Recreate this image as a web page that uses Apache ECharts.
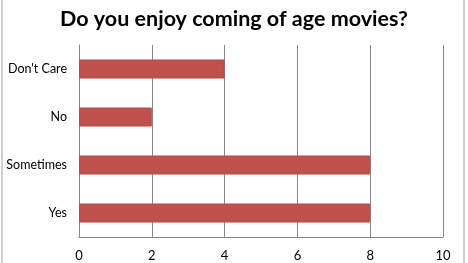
<!DOCTYPE html>
<html><head><meta charset="utf-8">
<script src="https://cdn.jsdelivr.net/npm/echarts@6/dist/echarts.min.js"></script>
<style>html,body{margin:0;padding:0;background:#fff;}#c{width:468px;height:263px;}</style>
</head><body><div id="c"></div>
<script>
const titleText = "Do you enjoy coming of age movies?";
const categories = ["Yes", "Sometimes", "No", "Don't Care"];
const values = [8, 8, 2, 4];
const xTicks = [0, 2, 4, 6, 8, 10];

const chart = echarts.init(document.getElementById('c'), null, {renderer: 'canvas'});
chart.setOption({
  animation: false,
  backgroundColor: '#fff',
  title: {
    text: titleText, left: 'center', top: 3,
    textStyle: {fontFamily: 'Lato', fontWeight: 'bold', fontSize: 21.5, color: '#000'}
  },
  graphic: [{
    type: 'rect', shape: {x: 2, y: -2, width: 462, height: 270},
    style: {fill: 'none', stroke: '#a0a0a0', lineWidth: 1}, silent: true
  }],
  grid: {left: 79, right: 25, top: 45, bottom: 26, containLabel: false},
  xAxis: {
    type: 'value', min: xTicks[0], max: xTicks[xTicks.length - 1], interval: 2,
    axisLine: {show: true, lineStyle: {color: '#888'}},
    axisTick: {show: false},
    splitLine: {show: true, lineStyle: {color: '#888', width: 1}},
    axisLabel: {color: '#000', fontFamily: 'Lato', fontSize: 13, margin: 12}
  },
  yAxis: {
    type: 'category', data: categories,
    axisLine: {show: true, lineStyle: {color: '#888'}},
    axisTick: {show: false},
    axisLabel: {color: '#000', fontFamily: 'Lato', fontSize: 12.5, margin: 12}
  },
  series: [{
    type: 'bar', data: values, barWidth: 19,
    itemStyle: {color: '#C0504D', borderColor: '#B34A47', borderWidth: 1}
  }]
});
</script></body></html>
